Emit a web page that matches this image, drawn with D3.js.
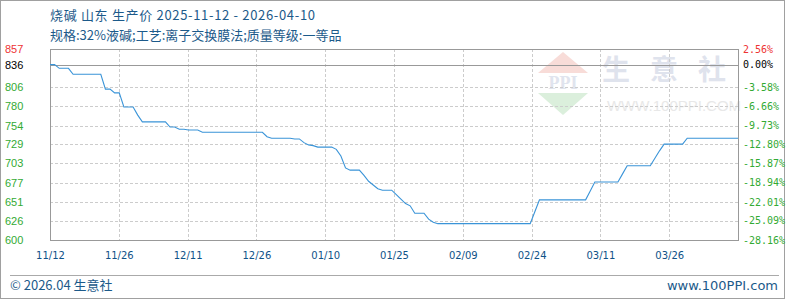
<!DOCTYPE html>
<html>
<head>
<meta charset="utf-8">
<script src="https://cdn.jsdelivr.net/npm/d3@7"></script>
<style>
  body { margin: 0; background: #fff; }
  svg { display: block; }
</style>
</head>
<body>
<svg id="chart" width="788" height="300"></svg>
<script>
// price points (yuan/ton), change points only
var dates = ["2025-11-12","2025-11-13","2025-11-14","2025-11-16","2025-11-17","2025-11-23","2025-11-24",
  "2025-11-25","2025-11-26","2025-11-27","2025-11-28","2025-11-30","2025-12-01","2025-12-02","2025-12-07",
  "2025-12-08","2025-12-09","2025-12-10","2025-12-11","2025-12-12","2025-12-14","2025-12-15","2025-12-28",
  "2025-12-29","2025-12-30","2026-01-03","2026-01-04","2026-01-05","2026-01-06","2026-01-07","2026-01-08",
  "2026-01-09","2026-01-12","2026-01-13","2026-01-14","2026-01-15","2026-01-16","2026-01-18","2026-01-19",
  "2026-01-20","2026-01-21","2026-01-22","2026-01-23","2026-01-25","2026-01-26","2026-01-27","2026-01-28",
  "2026-01-29","2026-01-30","2026-02-01","2026-02-02","2026-02-03","2026-02-04","2026-02-24","2026-02-25",
  "2026-02-26","2026-03-08","2026-03-09","2026-03-10","2026-03-15","2026-03-16","2026-03-17","2026-03-22",
  "2026-03-23","2026-03-24","2026-03-25","2026-03-29","2026-03-30","2026-04-10"];
var prices = [836,836,831,831,823,823,803,
  803,798,798,779,779,768,759,759,
  752,752,749,749,748,748,745,745,
  739,737,737,736,736,731,728,727,
  725,725,722,713,697,694,694,687,
  679,674,669,667,667,661,655,649,
  646,636,636,628,624,622,622,638,
  654,654,666,678,678,689,700,700,
  710,720,729,729,737,737];

var yTicks = [600, 626, 651, 677, 703, 729, 754, 780, 806, 836, 857];
var pctLabels = ["-28.16%","-25.09%","-22.01%","-18.94%","-15.87%","-12.80%","-9.73%","-6.66%","-3.58%","0.00%","2.56%"];
var baseValue = 836;
var startDate = "2025-11-12", endDate = "2026-04-10";

var titleText = "烧碱 山东 生产价 2025-11-12 - 2026-04-10";
var subText = "规格:32%液碱;工艺:离子交换膜法;质量等级:一等品";

var W = 788, H = 300;
var plot = {left: 50, right: 738, top: 49, bottom: 240};

var parse = d3.timeParse("%Y-%m-%d");
var data = dates.map(function(d, i) { return {date: parse(d), value: prices[i]}; });

var svg = d3.select("#chart");

// outer frame
svg.append("rect")
  .attr("x", 0.5).attr("y", 0.5)
  .attr("width", W - 4).attr("height", H - 2)
  .attr("fill", "none").attr("stroke", "#a0a0a0");

var x = d3.scaleTime()
  .domain([parse(startDate), parse(endDate)])
  .range([plot.left, plot.right]);

var y = d3.scaleLinear()
  .domain([600, 857])
  .range([plot.bottom, plot.top]);

// ten equal steps across the range, like the original
var t0 = x.domain()[0].getTime(), t1 = x.domain()[1].getTime();
var xTicks = d3.range(10).map(function(i) { return new Date(t0 + i * (t1 - t0) / 10); });
var fmt = d3.timeFormat("%m/%d");

// watermark
var wm = svg.append("g").attr("class", "watermark");
wm.append("path")
  .attr("d", "M563,52 L588,73 L538,73 Z")
  .attr("fill", "#f8dcd8");
wm.append("text")
  .attr("x", 563).attr("y", 89)
  .attr("text-anchor", "middle")
  .attr("font-family", "Liberation Serif, serif")
  .attr("font-weight", "bold")
  .attr("font-size", 18)
  .attr("fill", "#e0e4ee")
  .text("PPI");
wm.append("path")
  .attr("d", "M538,93 L588,93 L563,115 Z")
  .attr("fill", "#dbefdc");
wm.append("text")
  .attr("x", 674).attr("y", 80)
  .attr("text-anchor", "middle")
  .attr("font-family", "Noto Sans CJK SC")
  .attr("font-weight", "bold")
  .attr("font-size", 28)
  .attr("letter-spacing", 20)
  .attr("fill", "#dfe3ed")
  .text("生意社");
wm.append("text")
  .attr("x", 674).attr("y", 111)
  .attr("text-anchor", "middle")
  .attr("font-family", "Liberation Sans Narrow, Liberation Sans")
  .attr("font-size", 15)
  .attr("fill", "#e8e8e8")
  .text("WWW.100PPI.COM");

// horizontal grid
svg.append("g")
  .selectAll("line")
  .data(yTicks.filter(function(v) { return v !== 600 && v !== 857 && v !== baseValue; }))
  .join("line")
  .attr("x1", plot.left).attr("x2", plot.right)
  .attr("y1", function(d) { return Math.round(y(d)) + 0.5; })
  .attr("y2", function(d) { return Math.round(y(d)) + 0.5; })
  .attr("stroke", "#cccccc")
  .attr("stroke-dasharray", "3,2");

// vertical grid
svg.append("g")
  .selectAll("line")
  .data(xTicks.slice(1))
  .join("line")
  .attr("x1", function(d) { return Math.round(x(d)) + 0.5; })
  .attr("x2", function(d) { return Math.round(x(d)) + 0.5; })
  .attr("y1", plot.top).attr("y2", plot.bottom)
  .attr("stroke", "#cccccc")
  .attr("stroke-dasharray", "3,2");

// base line (start price)
svg.append("line")
  .attr("x1", plot.left).attr("x2", plot.right)
  .attr("y1", Math.round(y(baseValue)) + 0.5)
  .attr("y2", Math.round(y(baseValue)) + 0.5)
  .attr("stroke", "#999999");

// plot frame
svg.append("rect")
  .attr("x", plot.left + 0.5).attr("y", plot.top + 0.5)
  .attr("width", plot.right - plot.left).attr("height", plot.bottom - plot.top)
  .attr("fill", "none")
  .attr("stroke", "#999999");

// price line
var line = d3.line()
  .x(function(d) { return x(d.date); })
  .y(function(d) { return y(d.value); });

svg.append("path")
  .datum(data)
  .attr("d", line)
  .attr("fill", "none")
  .attr("stroke", "#3a94d8")
  .attr("stroke-width", 1.1);

function tickColor(v) {
  if (v === 857) return "#ee3333";
  if (v === baseValue) return "#000000";
  return "#33aa33";
}

// left labels
svg.append("g")
  .selectAll("text")
  .data(yTicks)
  .join("text")
  .attr("x", 5)
  .attr("y", function(d) { return y(d); })
  .attr("dy", "0.36em")
  .attr("font-family", "Liberation Sans, Arial")
  .attr("font-size", 11)
  .attr("fill", tickColor)
  .text(function(d) { return d; });

// right labels
svg.append("g")
  .selectAll("text")
  .data(yTicks)
  .join("text")
  .attr("x", 743)
  .attr("y", function(d) { return y(d); })
  .attr("dy", "0.36em")
  .attr("font-family", "DejaVu Sans Mono, monospace")
  .attr("font-size", 10)
  .attr("fill", tickColor)
  .text(function(d, i) { return pctLabels[i]; });

// x axis labels
var xAxis = d3.axisBottom(x)
  .tickValues(xTicks)
  .tickFormat(fmt)
  .tickSize(0)
  .tickPadding(12);

var gx = svg.append("g")
  .attr("transform", "translate(0," + plot.bottom + ")")
  .call(xAxis);
gx.select(".domain").remove();
gx.selectAll("text")
  .attr("font-family", "DejaVu Sans, Verdana")
  .attr("font-size", 10)
  .attr("fill", "#0f5288");

// titles
svg.append("text")
  .attr("x", 50).attr("y", 20)
  .attr("font-family", "Noto Sans CJK SC")
  .attr("font-size", 13)
  .attr("fill", "#1c5a8a")
  .attr("textLength", 265)
  .attr("lengthAdjust", "spacing")
  .text(titleText);

svg.append("text")
  .attr("x", 50).attr("y", 40)
  .attr("font-family", "Noto Sans CJK SC")
  .attr("font-size", 13)
  .attr("fill", "#1c5a8a")
  .text(subText);

// footer
svg.append("line")
  .attr("x1", 10).attr("x2", 779)
  .attr("y1", 275.5).attr("y2", 275.5)
  .attr("stroke", "#aaaaaa");

svg.append("text")
  .attr("x", 10).attr("y", 290)
  .attr("font-family", "Noto Sans CJK SC")
  .attr("font-size", 13)
  .attr("fill", "#1c5a8a")
  .text("© 2026.04 生意社");

svg.append("text")
  .attr("x", 778).attr("y", 290)
  .attr("text-anchor", "end")
  .attr("font-family", "DejaVu Sans, Verdana")
  .attr("font-size", 13)
  .attr("fill", "#1c5a8a")
  .text("www.100PPI.com");
</script>
</body>
</html>
